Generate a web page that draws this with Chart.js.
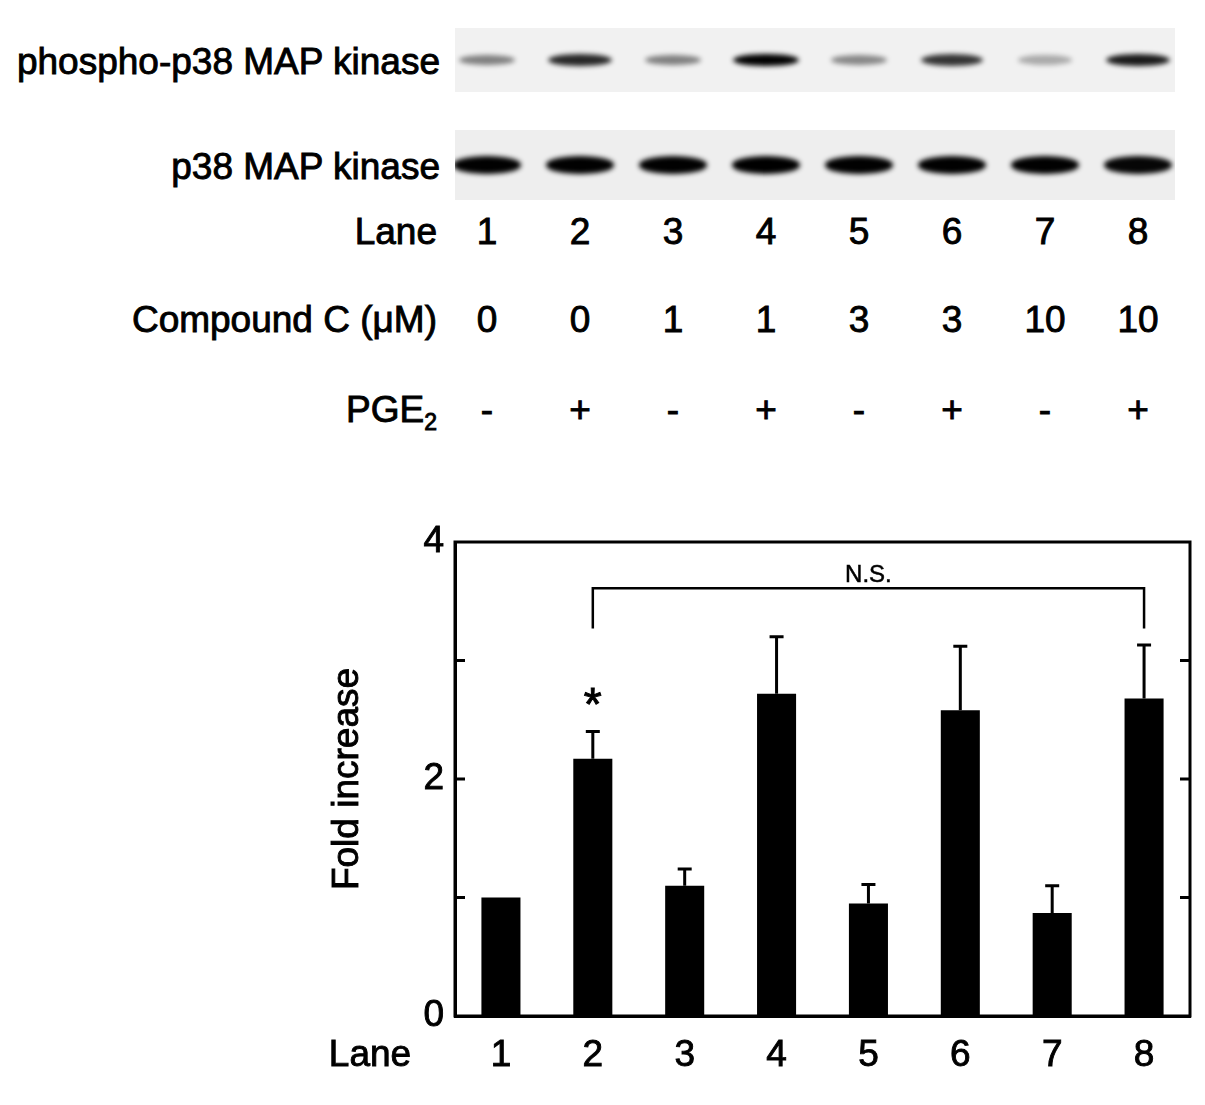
<!DOCTYPE html>
<html>
<head>
<meta charset="utf-8">
<script src="https://cdn.jsdelivr.net/npm/chart.js@4.4.0/dist/chart.umd.min.js"></script>
<style>
  html,body{margin:0;padding:0;background:#fff;}
  body{width:1205px;height:1105px;position:relative;overflow:hidden;font-family:"Liberation Sans",Arial,sans-serif;color:#000;}
  .lbl{position:absolute;font-size:37px;height:44px;line-height:44px;white-space:nowrap;-webkit-text-stroke:0.9px #000;}
  .r{text-align:right;}
  .c{text-align:center;width:90px;}
  .blot{position:absolute;left:455px;width:720px;overflow:hidden;}
  .band{position:absolute;border-radius:50%;filter:blur(2.5px);}
  sub{font-size:23px;vertical-align:-8px;line-height:0;}
  #chartWrap{position:absolute;left:0;top:480px;width:1205px;height:625px;}
</style>
</head>
<body>
<div id="head"></div>
<div id="chartWrap"><canvas id="c" width="1205" height="625"></canvas></div>
<script>
// ── data ──────────────────────────────────────────────
const lanes=['1','2','3','4','5','6','7','8'];
const compoundC=['0','0','1','1','3','3','10','10'];
const pge2=['-','+','-','+','-','+','-','+'];
// band darkness (0..1)
const phosphoBand=[0.45,0.8,0.45,0.95,0.42,0.75,0.28,0.85];
const totalBand=[0.95,0.95,0.95,0.97,0.95,0.95,0.95,0.93];

const foldMean=[1.00,2.17,1.10,2.72,0.95,2.58,0.87,2.68];
const foldSem =[0,0.23,0.14,0.48,0.16,0.54,0.23,0.45];
const yLabelVals=[0,2,4];
const yMinorTicks=[1,2,3];
// bracket between lane 2 and lane 8
const bracket={from:'2',to:'8',top:3.61,foot:3.27,text:'N.S.'};
const star={lane:'2',value:2.72,text:'*'};

// ── blot + condition rows (html) ──────────────────────
const headEl=document.getElementById('head');
const laneX=i=>487+i*93;
function add(html,cls,style,parent){
  const d=document.createElement('div');d.className=cls;d.innerHTML=html;
  Object.assign(d.style,style);(parent||headEl).appendChild(d);return d;
}
function blot(y,h,bg,vals,bw,bh){
  const b=add('','blot',{top:y+'px',height:h+'px',background:bg});
  vals.forEach((v,i)=>{
    const w=bw*(0.75+0.3*v);
    const hh=bh*(0.7+0.4*v);
    add('','band',{left:(laneX(i)-455-w/2)+'px',top:(h/2-hh/2)+'px',width:w+'px',height:hh+'px',
      background:`rgba(0,0,0,${Math.min(1,v*1.05)})`},b);
  });
}
blot(28,64,'#f1f1f1',phosphoBand,64,12);
blot(130,70,'#eeeeee',totalBand,66,16);

add('phospho-p38 MAP kinase','lbl r',{right:(1205-440)+'px',top:(62-22)+'px'});
add('p38 MAP kinase','lbl r',{right:(1205-440)+'px',top:(167-22)+'px'});

const rows=[['Lane',lanes,232],['Compound C (\u03bcM)',compoundC,320],['PGE<sub>2</sub>',pge2,410]];
rows.forEach(([name,vals,y])=>{
  add(name,'lbl r',{right:(1205-437)+'px',top:(y-22)+'px'});
  vals.forEach((v,i)=>add(v,'lbl c',{left:(laneX(i)-45)+'px',top:(y-22)+'px'}));
});

// ── chart ─────────────────────────────────────────────
const FONT='"Liberation Sans", Arial, sans-serif';
const TXT_STROKE=0.9;

function heavyText(ctx,s,x,y){ctx.fillText(s,x,y);ctx.strokeText(s,x,y);}

const extras={
  id:'extras',
  afterDatasetsDraw(chart){
    const {ctx,chartArea:a,scales:{x,y}}=chart;
    const meta=chart.getDatasetMeta(0);
    ctx.save();
    ctx.strokeStyle='#000';ctx.fillStyle='#000';ctx.lineWidth=3;
    // frame
    ctx.strokeRect(a.left,a.top,a.right-a.left,a.bottom-a.top);
    // inward ticks both sides
    yMinorTicks.forEach(v=>{
      const py=y.getPixelForValue(v);
      ctx.beginPath();
      ctx.moveTo(a.left,py);ctx.lineTo(a.left+10,py);
      ctx.moveTo(a.right,py);ctx.lineTo(a.right-10,py);
      ctx.stroke();
    });
    // error bars
    foldSem.forEach((s,i)=>{
      if(!s)return;
      const px=meta.data[i].x;
      const p0=y.getPixelForValue(foldMean[i]),p1=y.getPixelForValue(foldMean[i]+s);
      ctx.beginPath();ctx.moveTo(px,p0);ctx.lineTo(px,p1);
      ctx.moveTo(px-7,p1);ctx.lineTo(px+7,p1);ctx.stroke();
    });
    // bracket
    const bx0=x.getPixelForValue(lanes.indexOf(bracket.from)),bx1=x.getPixelForValue(lanes.indexOf(bracket.to));
    const by=y.getPixelForValue(bracket.top),bf=y.getPixelForValue(bracket.foot);
    ctx.lineWidth=2.5;
    ctx.beginPath();ctx.moveTo(bx0,bf);ctx.lineTo(bx0,by);ctx.lineTo(bx1,by);ctx.lineTo(bx1,bf);ctx.stroke();
    ctx.lineWidth=0.5;
    ctx.font='24px '+FONT;ctx.textAlign='center';ctx.textBaseline='alphabetic';
    heavyText(ctx,bracket.text,(bx0+bx1)/2,by-6);
    // significance star (centred on its value)
    ctx.font='46px '+FONT;ctx.lineWidth=1;
    heavyText(ctx,star.text,x.getPixelForValue(lanes.indexOf(star.lane)),y.getPixelForValue(star.value)+26);
    // "Lane" row label + y title
    ctx.font='37px '+FONT;ctx.textBaseline='middle';ctx.lineWidth=TXT_STROKE;
    heavyText(ctx,'Lane',370,a.bottom+18+22);
    ctx.translate(348,(a.top+a.bottom)/2);ctx.rotate(-Math.PI/2);
    heavyText(ctx,'Fold increase',0,0);
    ctx.restore();
  }
};

const tickFont={family:FONT,size:37};
new Chart(document.getElementById('c'),{
  type:'bar',
  data:{labels:lanes,datasets:[{data:foldMean,backgroundColor:'#000',borderWidth:0,barPercentage:0.425,categoryPercentage:1}]},
  options:{
    responsive:false,animation:false,devicePixelRatio:1,
    layout:{padding:{left:326,right:15,top:62,bottom:0}},
    plugins:{legend:{display:false},tooltip:{enabled:false}},
    scales:{
      x:{
        grid:{display:false,drawTicks:false},
        border:{display:true,color:'#000',width:3},
        ticks:{color:'#000',font:tickFont,padding:18,textStrokeColor:'#000',textStrokeWidth:TXT_STROKE},
        afterFit:s=>{s.height=89;}
      },
      y:{
        min:0,max:4,
        grid:{display:false,drawTicks:false},
        border:{display:true,color:'#000',width:3},
        ticks:{stepSize:1,color:'#000',font:tickFont,padding:11,textStrokeColor:'#000',textStrokeWidth:TXT_STROKE,
          callback:v=>yLabelVals.includes(v)?String(v):''},
        title:{display:false},
        afterFit:s=>{s.width=129;}
      }
    }
  },
  plugins:[extras]
});
</script>
</body>
</html>
